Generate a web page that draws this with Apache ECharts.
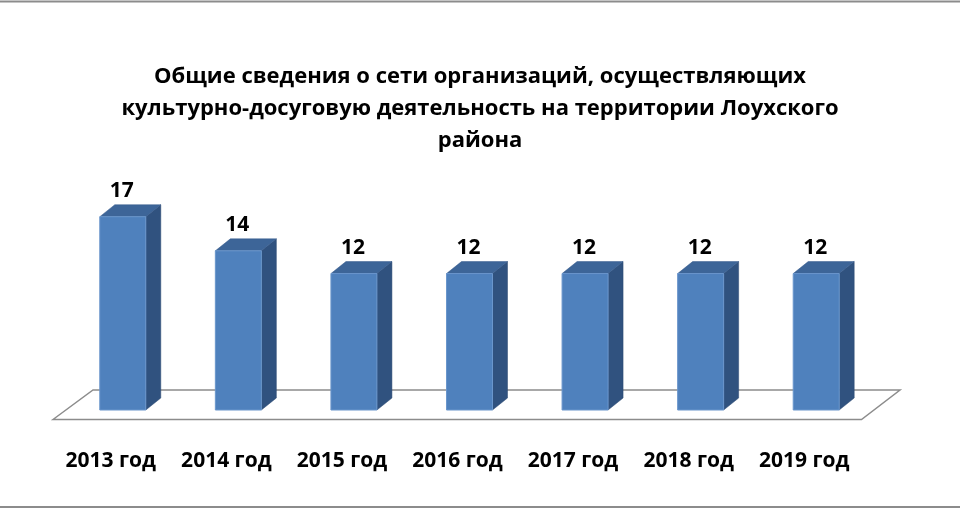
<!DOCTYPE html>
<html lang="ru">
<head>
    <meta charset="UTF-8"/>
    <title>Культурно-досуговые организации</title>
    <script src="https://cdn.jsdelivr.net/npm/echarts@6/dist/echarts.min.js"></script>
    <style>
        html, body { margin: 0; padding: 0; background: #fff; }
        #main { width: 960px; height: 510px; }
    </style>
</head>
<body>
<div id="main"></div>
<script type="text/javascript">
    var years = ['2013 год', '2014 год', '2015 год', '2016 год', '2017 год', '2018 год', '2019 год'];
    var counts = [17, 14, 12, 12, 12, 12, 12];
    var chartTitle = 'Общие сведения о сети организаций, осуществляющих\nкультурно-досуговую деятельность на территории Лоухского\nрайона';

    var FONT = '"Open Sans", "Noto Sans", sans-serif';
    var DX = 15, DY = 12;   // глубина "объёмного" столбика
    var BAR_W = 46;

    var myChart = echarts.init(document.getElementById('main'));

    // объёмный столбик: лицевая грань, боковая, верхняя + подпись
    function renderBar(params, api) {
        var base = api.coord([api.value(0), 0]);
        var top = api.coord([api.value(0), api.value(1)]);
        var x0 = base[0] - BAR_W / 2, x1 = base[0] + BAR_W / 2;
        var y0 = base[1], y1 = top[1];
        return {
            type: 'group',
            children: [
                {
                    type: 'polygon',
                    shape: { points: [[x1, y1], [x1 + DX, y1 - DY], [x1 + DX, y0 - DY], [x1, y0]] },
                    style: { fill: '#30527f', stroke: '#2a4870', lineWidth: 0.5 }
                },
                {
                    type: 'polygon',
                    shape: { points: [[x0, y1], [x0 + DX, y1 - DY], [x1 + DX, y1 - DY], [x1, y1]] },
                    style: { fill: '#3d6598', stroke: '#35598a', lineWidth: 0.5 }
                },
                {
                    type: 'rect',
                    shape: { x: x0, y: y1, width: BAR_W, height: y0 - y1 },
                    style: { fill: '#4f81bd', stroke: '#6a96cc', lineWidth: 1 }
                },
                {
                    type: 'text',
                    x: base[0] - 1,
                    y: y1 - DY - 14,
                    style: {
                        text: String(api.value(1)),
                        fill: '#000',
                        font: 'bold 21px ' + FONT,
                        align: 'center',
                        verticalAlign: 'middle'
                    }
                }
            ]
        };
    }

    // "пол" диаграммы — параллелограмм под столбиками
    function renderFloor(params, api) {
        var cs = params.coordSys;
        var yb = cs.y + cs.height;
        var l = cs.x, r = cs.x + cs.width;
        return {
            type: 'polygon',
            z2: -10,
            shape: {
                points: [[l - 12, yb + 9.5], [l + 28, yb - 20], [r + 26, yb - 20], [r - 12.5, yb + 9.5]]
            },
            style: { fill: '#fff', stroke: '#8c8c8c', lineWidth: 1.5 }
        };
    }

    var option = {
        animation: false,
        title: {
            text: chartTitle,
            left: 'center',
            top: 56,
            textStyle: {
                fontFamily: FONT,
                fontSize: 22,
                fontWeight: 'bold',
                color: '#000',
                lineHeight: 32
            }
        },
        graphic: [
            { type: 'line', shape: { x1: 0, y1: 1.5, x2: 960, y2: 1.5 }, style: { stroke: '#8c8c8c', lineWidth: 2 } },
            { type: 'line', shape: { x1: 0, y1: 507, x2: 960, y2: 507 }, style: { stroke: '#8c8c8c', lineWidth: 2 } }
        ],
        grid: { left: 65, right: 86, top: 182.6, bottom: 100 },
        xAxis: {
            type: 'category',
            data: years,
            axisLine: { show: false },
            axisTick: { show: false },
            axisLabel: {
                margin: 41,
                formatter: function (v) { return '{a|' + v + '}'; },
                rich: {
                    a: {
                        fontFamily: FONT,
                        fontSize: 21,
                        fontWeight: 'bold',
                        color: '#000',
                        padding: [0, 24, 0, 0]
                    }
                }
            }
        },
        yAxis: {
            type: 'value',
            min: 0,
            max: 20,
            show: false,
            splitLine: { show: false }
        },
        series: [
            {
                type: 'custom',
                renderItem: renderFloor,
                data: [[0, 0]],
                z: 1,
                silent: true
            },
            {
                type: 'custom',
                renderItem: renderBar,
                encode: { x: 0, y: 1 },
                data: years.map(function (y, i) { return [i, counts[i]]; }),
                z: 2
            }
        ]
    };
    myChart.setOption(option);
</script>
</body>
</html>
